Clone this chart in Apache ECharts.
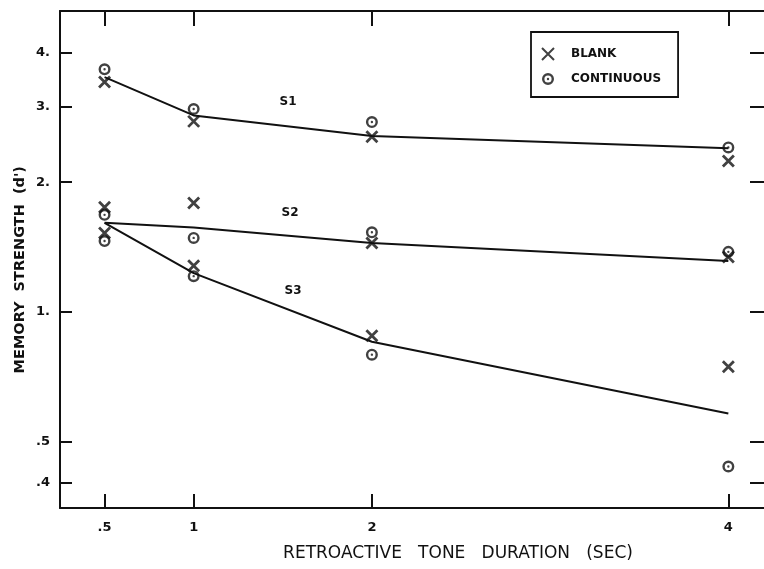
<!DOCTYPE html>
<html>
<head>
<meta charset="utf-8">
<script src="https://cdn.jsdelivr.net/npm/echarts@6/dist/echarts.min.js"></script>
<style>
html,body{margin:0;padding:0;background:#fff;}
#chart{width:764px;height:569px;}
</style>
</head>
<body>
<div id="chart"></div>
<script>
// Retroactive tone durations (sec)
var durations = [0.5, 1, 2, 4];
var xTicks = [0.5, 1, 2, 4];
var yTicks = [0.4, 0.5, 1, 2, 3, 4];

// Subject S1
var s1Blank = [3.42, 2.77, 2.55, 2.24];
var s1Cont  = [3.66, 2.96, 2.76, 2.41];
var s1Fit   = [3.51, 2.86, 2.56, 2.40];
// Subject S2
var s2Blank = [1.75, 1.79, 1.445, 1.34];
var s2Cont  = [1.68, 1.485, 1.53, 1.378];
var s2Fit   = [1.61, 1.57, 1.445, 1.313];
// Subject S3
var s3Blank = [1.525, 1.28, 0.88, 0.745];
var s3Cont  = [1.46, 1.21, 0.795, 0.437];
var s3Fit   = [1.61, 1.23, 0.852, 0.58];

var subjectLabels = ['S1', 'S2', 'S3'];

function pairs(vals) { return durations.map(function (d, i) { return [d, vals[i]]; }); }

var INK = '#111111';
var X_SYMBOL = 'path://M0,0L10,10M10,0L0,10';
var DOT_CIRCLE = 'path://M10,0A10,10 0 1,1 10,20A10,10 0 1,1 10,0Z' +
  'M10,4A6,6 0 1,0 10,16A6,6 0 1,0 10,4Z' +
  'M10,8A2,2 0 1,1 10,12A2,2 0 1,1 10,8Z';

var FONT = 'DejaVu Sans';

function fitSeries(vals) {
  return {
    type: 'line', data: pairs(vals), symbol: 'none', silent: true,
    lineStyle: { color: INK, width: 2 }, z: 2
  };
}

var chart = echarts.init(document.getElementById('chart'), null, { renderer: 'canvas' });

var option = {
  backgroundColor: '#ffffff',
  animation: false,
  grid: { left: 60, right: -2, top: 11, bottom: 61 },
  legend: {
    orient: 'vertical', left: 531, top: 32,
    padding: [15, 17, 12, 10], itemGap: 12,
    itemWidth: 12, itemHeight: 12,
    borderColor: INK, borderWidth: 1.8,
    textStyle: { fontFamily: FONT, fontWeight: 'bold', fontSize: 12, color: INK, padding: [0, 0, 0, 12] },
    data: ['BLANK', 'CONTINUOUS']
  },
  xAxis: [{
    type: 'value', min: 0.25, max: 4.2, position: 'bottom',
    name: 'RETROACTIVE   TONE   DURATION   (SEC)', nameLocation: 'middle', nameGap: 37,
    nameTextStyle: { fontFamily: FONT, fontSize: 17, color: INK, padding: [0, 0, 0, 92] },
    axisLine: { lineStyle: { color: INK, width: 2 } },
    axisTick: { show: true, inside: true, length: 14, lineStyle: { color: INK, width: 2 }, customValues: xTicks },
    axisLabel: {
      customValues: xTicks, margin: 13, fontFamily: FONT, fontWeight: 'bold', fontSize: 13, color: INK,
      formatter: function (v) { return v === 0.5 ? '.5' : String(v); }
    },
    splitLine: { show: false }
  }, {
    type: 'value', min: 0.25, max: 4.2, position: 'top',
    axisLine: { show: true, lineStyle: { color: INK, width: 2 } },
    axisTick: { show: true, inside: true, length: 15, lineStyle: { color: INK, width: 2 }, customValues: xTicks },
    axisLabel: { show: false, customValues: xTicks },
    splitLine: { show: false }
  }],
  yAxis: [{
    type: 'log', min: 0.35, max: 5, position: 'left',
    axisLine: { show: true, lineStyle: { color: INK, width: 2 } },
    axisTick: { show: true, inside: true, length: 12, lineStyle: { color: INK, width: 2 }, customValues: yTicks },
    axisLabel: {
      customValues: yTicks, margin: 10, fontFamily: FONT, fontWeight: 'bold', fontSize: 13, color: INK,
      formatter: function (v) { return v < 1 ? String(v).replace(/^0/, '') : v + '.'; }
    },
    splitLine: { show: false }
  }, {
    type: 'log', min: 0.35, max: 5, position: 'right',
    axisLine: { show: false },
    axisTick: { show: true, inside: true, length: 14, lineStyle: { color: INK, width: 2 }, customValues: yTicks },
    axisLabel: { show: false, customValues: yTicks },
    splitLine: { show: false }
  }],
  series: [
    fitSeries(s1Fit), fitSeries(s2Fit), fitSeries(s3Fit),
    {
      name: 'BLANK', type: 'scatter', symbol: X_SYMBOL, symbolSize: 11, z: 4,
      itemStyle: { color: 'transparent', borderColor: INK, borderWidth: 2.8 },
      data: pairs(s1Blank).concat(pairs(s2Blank), pairs(s3Blank))
    },
    {
      name: 'CONTINUOUS', type: 'scatter', symbol: DOT_CIRCLE, symbolSize: 12, z: 4,
      itemStyle: { color: INK, borderWidth: 0 },
      data: pairs(s1Cont).concat(pairs(s2Cont), pairs(s3Cont))
    }
  ],
  graphic: [
    { type: 'text', left: 13, top: 166, rotation: Math.PI / 2,
      style: { text: "MEMORY  STRENGTH  (d')", fontFamily: FONT, fontWeight: 'bold', fontSize: 14.5, fill: INK } },
    { type: 'text', x: 288, y: 102, style: { text: subjectLabels[0], fontFamily: FONT, fontWeight: 'bold', fontSize: 12, fill: INK, align: 'center', verticalAlign: 'middle' } },
    { type: 'text', x: 290, y: 213, style: { text: subjectLabels[1], fontFamily: FONT, fontWeight: 'bold', fontSize: 12, fill: INK, align: 'center', verticalAlign: 'middle' } },
    { type: 'text', x: 293, y: 291, style: { text: subjectLabels[2], fontFamily: FONT, fontWeight: 'bold', fontSize: 12, fill: INK, align: 'center', verticalAlign: 'middle' } }
  ]
};
chart.setOption(option);
</script>
</body>
</html>
